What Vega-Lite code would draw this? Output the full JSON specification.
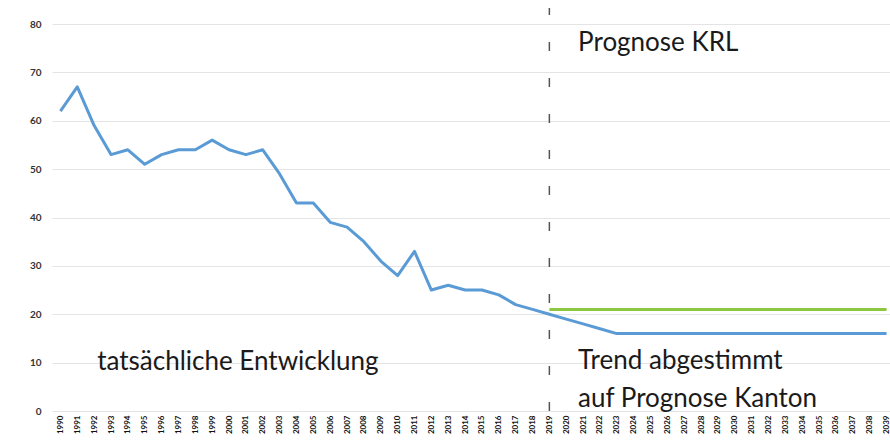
{
  "$schema": "https://vega.github.io/schema/vega-lite/v6.json",
  "width": 843,
  "height": 387,
  "autosize": {"type": "none"},
  "padding": {"left": 52, "top": 24, "right": 0, "bottom": 33},
  "background": "white",
  "config": {"view": {"stroke": null}, "font": "Lato"},
  "datasets": {
    "series": [
      {"year": 1990, "value": 62, "krl": null},
      {"year": 1991, "value": 67, "krl": null},
      {"year": 1992, "value": 59, "krl": null},
      {"year": 1993, "value": 53, "krl": null},
      {"year": 1994, "value": 54, "krl": null},
      {"year": 1995, "value": 51, "krl": null},
      {"year": 1996, "value": 53, "krl": null},
      {"year": 1997, "value": 54, "krl": null},
      {"year": 1998, "value": 54, "krl": null},
      {"year": 1999, "value": 56, "krl": null},
      {"year": 2000, "value": 54, "krl": null},
      {"year": 2001, "value": 53, "krl": null},
      {"year": 2002, "value": 54, "krl": null},
      {"year": 2003, "value": 49, "krl": null},
      {"year": 2004, "value": 43, "krl": null},
      {"year": 2005, "value": 43, "krl": null},
      {"year": 2006, "value": 39, "krl": null},
      {"year": 2007, "value": 38, "krl": null},
      {"year": 2008, "value": 35, "krl": null},
      {"year": 2009, "value": 31, "krl": null},
      {"year": 2010, "value": 28, "krl": null},
      {"year": 2011, "value": 33, "krl": null},
      {"year": 2012, "value": 25, "krl": null},
      {"year": 2013, "value": 26, "krl": null},
      {"year": 2014, "value": 25, "krl": null},
      {"year": 2015, "value": 25, "krl": null},
      {"year": 2016, "value": 24, "krl": null},
      {"year": 2017, "value": 22, "krl": null},
      {"year": 2018, "value": 21, "krl": null},
      {"year": 2019, "value": 20, "krl": 21},
      {"year": 2020, "value": 19, "krl": 21},
      {"year": 2021, "value": 18, "krl": 21},
      {"year": 2022, "value": 17, "krl": 21},
      {"year": 2023, "value": 16, "krl": 21},
      {"year": 2024, "value": 16, "krl": 21},
      {"year": 2025, "value": 16, "krl": 21},
      {"year": 2026, "value": 16, "krl": 21},
      {"year": 2027, "value": 16, "krl": 21},
      {"year": 2028, "value": 16, "krl": 21},
      {"year": 2029, "value": 16, "krl": 21},
      {"year": 2030, "value": 16, "krl": 21},
      {"year": 2031, "value": 16, "krl": 21},
      {"year": 2032, "value": 16, "krl": 21},
      {"year": 2033, "value": 16, "krl": 21},
      {"year": 2034, "value": 16, "krl": 21},
      {"year": 2035, "value": 16, "krl": 21},
      {"year": 2036, "value": 16, "krl": 21},
      {"year": 2037, "value": 16, "krl": 21},
      {"year": 2038, "value": 16, "krl": 21},
      {"year": 2039, "value": 16, "krl": 21}
    ],
    "divider": [{"year": 2019, "y0": 0, "y1": 83.3}],
    "leftLabels": [
      {"year": 1992, "pos": 10.1, "label": "tatsächliche Entwicklung"}
    ],
    "rightLabels": [
      {"year": 2021, "pos": 76.1, "label": "Prognose KRL"},
      {"year": 2021, "pos": 10.3, "label": "Trend abgestimmt"},
      {"year": 2021, "pos": 2.5, "label": "auf Prognose Kanton"}
    ]
  },
  "encoding": {
    "x": {
      "field": "year",
      "type": "ordinal",
      "scale": {"type": "point", "padding": 0.5},
      "axis": {
        "title": null,
        "labelAngle": -90,
        "labelFontSize": 8,
        "labelFontWeight": "bold",
        "labelColor": "#111",
        "labelPadding": 4,
        "ticks": false,
        "domain": false,
        "grid": false,
        "labelOverlap": false
      }
    }
  },
  "layer": [
    {
      "data": {"name": "series"},
      "mark": {"type": "line", "color": "#5b9bd5", "strokeWidth": 3, "strokeJoin": "round"},
      "encoding": {
        "y": {
          "field": "value",
          "type": "quantitative",
          "scale": {"domain": [0, 80], "nice": false},
          "axis": {
            "title": null,
            "values": [0, 10, 20, 30, 40, 50, 60, 70, 80],
            "grid": true,
            "gridColor": "#e4e4e4",
            "gridWidth": 1,
            "ticks": false,
            "domain": false,
            "labelFontSize": 10,
            "labelFontWeight": "bold",
            "labelColor": "#333",
            "labelPadding": 11
          }
        }
      }
    },
    {
      "data": {"name": "series"},
      "transform": [{"filter": "isValid(datum.krl)"}],
      "mark": {"type": "line", "color": "#8dc63f", "strokeWidth": 3},
      "encoding": {"y": {"field": "krl", "type": "quantitative"}}
    },
    {
      "data": {"name": "divider"},
      "mark": {"type": "rule", "color": "#555", "strokeWidth": 1.5, "strokeDash": [9, 27], "clip": false},
      "encoding": {
        "y": {"field": "y0", "type": "quantitative"},
        "y2": {"field": "y1"}
      }
    },
    {
      "data": {"name": "leftLabels"},
      "mark": {"type": "text", "align": "left", "baseline": "middle", "fontSize": 26, "color": "#1a1a1a", "dx": 3, "font": "Lato"},
      "encoding": {
        "y": {"field": "pos", "type": "quantitative"},
        "text": {"field": "label"}
      }
    },
    {
      "data": {"name": "rightLabels"},
      "mark": {"type": "text", "align": "left", "baseline": "middle", "fontSize": 26, "color": "#1a1a1a", "dx": -5, "font": "Lato"},
      "encoding": {
        "y": {"field": "pos", "type": "quantitative"},
        "text": {"field": "label"}
      }
    }
  ]
}
